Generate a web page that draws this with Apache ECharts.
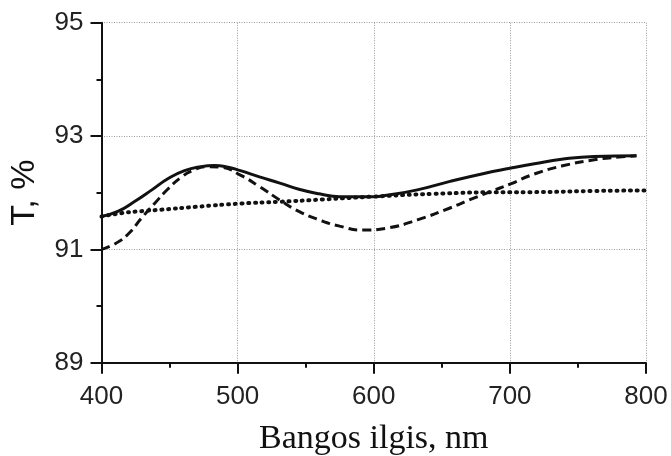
<!DOCTYPE html>
<html>
<head>
<meta charset="utf-8">
<script src="https://cdn.jsdelivr.net/npm/echarts@6/dist/echarts.min.js"></script>
<style>html,body{margin:0;padding:0;background:#fff;}#c{width:671px;height:456px;}</style>
</head>
<body>
<div id="c"></div>
<script>
// Wavelength (nm) samples and transmittance (%) for each curve
const solidX = [400, 412, 424, 437, 449, 461, 473, 483, 493, 502, 516, 531, 545, 560, 575, 599, 611, 632, 656, 681, 700, 718, 738, 762, 793];
const solidY = [91.58, 91.67, 91.84, 92.05, 92.25, 92.39, 92.46, 92.48, 92.45, 92.39, 92.28, 92.17, 92.06, 91.98, 91.93, 91.93, 91.96, 92.05, 92.20, 92.34, 92.43, 92.51, 92.59, 92.64, 92.65];

const dashedX = [400, 410, 420, 429, 439, 449, 459, 467, 477, 488, 502, 516, 531, 545, 560, 575, 592, 611, 632, 656, 673, 688, 700, 718, 738, 762, 780, 793];
const dashedY = [91.00, 91.10, 91.28, 91.54, 91.81, 92.07, 92.28, 92.39, 92.46, 92.45, 92.31, 92.11, 91.87, 91.67, 91.52, 91.41, 91.34, 91.38, 91.52, 91.73, 91.90, 92.04, 92.15, 92.33, 92.47, 92.58, 92.63, 92.65];

const dottedX = [400, 415, 432, 444, 469, 503, 531, 562, 599, 644, 700, 714, 760, 800];
const dottedY = [91.58, 91.64, 91.68, 91.70, 91.75, 91.81, 91.84, 91.88, 91.93, 91.98, 92.01, 92.01, 92.03, 92.04];

const xTicks = [400, 500, 600, 700, 800];
const yTicks = [89, 91, 93, 95];

const xTitle = 'Bangos ilgis, nm';
const yTitle = 'T, %';

function pairs(xs, ys) { return xs.map((x, i) => [x, ys[i]]); }

const chart = echarts.init(document.getElementById('c'), null, {renderer: 'canvas'});
const gridLine = {show: true, lineStyle: {color: '#9a9a9a', width: 1, type: [1, 1.5]}};
const sansFont = '"Liberation Sans", Arial, sans-serif';
chart.setOption({
  animation: false,
  backgroundColor: '#fff',
  grid: {left: 101.5, right: 25, top: 22.7, bottom: 93.3, containLabel: false, outerBoundsMode: 'none'},
  xAxis: {
    type: 'value',
    min: xTicks[0], max: xTicks[xTicks.length - 1], interval: 100,
    name: xTitle, nameLocation: 'middle', nameGap: 59,
    nameTextStyle: {fontFamily: '"Liberation Serif", "Times New Roman", serif', fontSize: 34, color: '#111'},
    axisLine: {show: true, onZero: false, lineStyle: {color: '#111', width: 2}},
    axisTick: {show: true, inside: false, length: 11, lineStyle: {color: '#111', width: 2}},
    minorTick: {show: true, splitNumber: 2, length: 5, lineStyle: {color: '#111', width: 2}},
    axisLabel: {margin: 21, fontSize: 26, fontFamily: sansFont, color: '#222'},
    splitLine: gridLine
  },
  yAxis: {
    type: 'value',
    min: yTicks[0], max: yTicks[yTicks.length - 1], interval: 2,
    name: yTitle, nameLocation: 'middle', nameGap: 60, nameRotate: 90,
    nameTextStyle: {fontFamily: sansFont, fontSize: 34, color: '#111'},
    axisLine: {show: true, onZero: false, lineStyle: {color: '#111', width: 2}},
    axisTick: {show: true, inside: false, length: 11, lineStyle: {color: '#111', width: 2}},
    minorTick: {show: true, splitNumber: 2, length: 5, lineStyle: {color: '#111', width: 2}},
    axisLabel: {margin: 18, fontSize: 26, fontFamily: sansFont, color: '#222'},
    splitLine: gridLine
  },
  series: [
    {type: 'line', data: pairs(dottedX, dottedY), smooth: 0.5, showSymbol: false, z: 3,
     lineStyle: {color: '#111', width: 4, type: [1, 5.7], cap: 'round'}},
    {type: 'line', data: pairs(dashedX, dashedY), smooth: 0.5, showSymbol: false, z: 4,
     lineStyle: {color: '#111', width: 3, type: [9, 5]}},
    {type: 'line', data: pairs(solidX, solidY), smooth: 0.5, showSymbol: false, z: 5,
     lineStyle: {color: '#111', width: 3, type: 'solid'}}
  ]
});
</script>
</body>
</html>
